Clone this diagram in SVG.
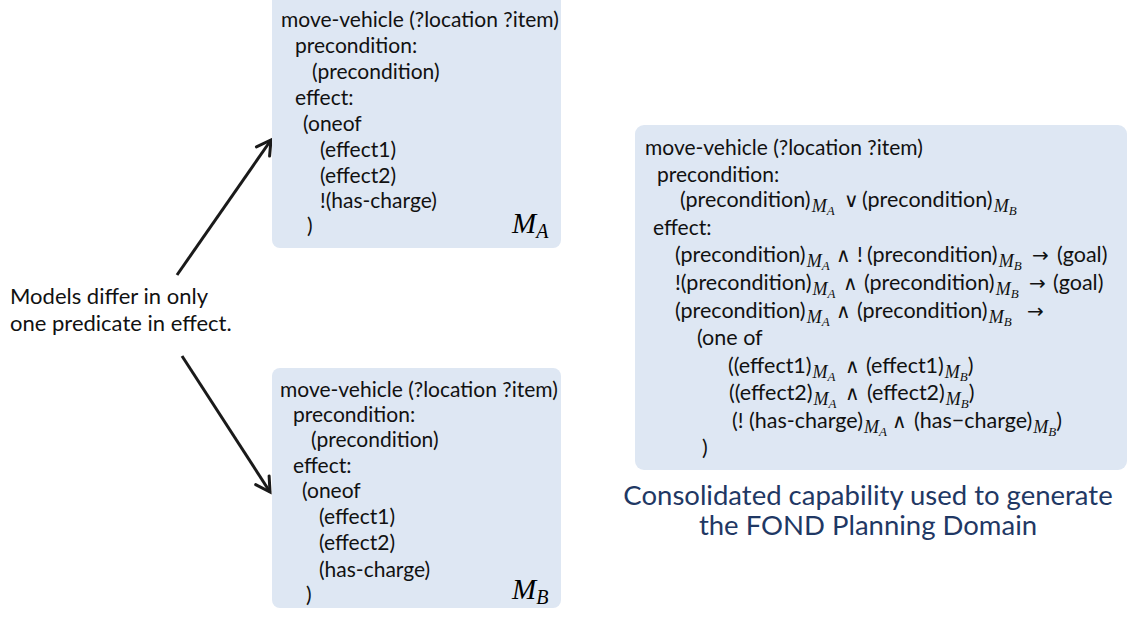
<svg xmlns="http://www.w3.org/2000/svg" width="1145" height="620" viewBox="0 0 1145 620">
  <defs>
    <marker id="arr" viewBox="0 0 20 20" refX="17" refY="10" markerWidth="20" markerHeight="20" markerUnits="userSpaceOnUse" orient="auto">
      <path d="M3,2 L17,10 L3,18" fill="none" stroke="#1a1a1a" stroke-width="3" stroke-linecap="round" stroke-linejoin="miter"/>
    </marker>
  </defs>
  <style>
    .box { fill: #dee7f3; }
    .t { font-family: Lato, "Liberation Sans", "DejaVu Sans", sans-serif; font-size: 21px; fill: #111; }
    .c { font-size: 21.5px; }
    .m { font-family: "Liberation Serif", "DejaVu Serif", serif; font-style: italic; }
    .sm { font-size: 18px; }
    .ss { font-size: 13px; }
    .big { font-size: 29px; }
    .bs { font-size: 20px; }
    .cap { font-family: Lato, "Liberation Sans", sans-serif; font-size: 27.5px; fill: #1f3864; text-anchor: middle; }
    .lbl { font-family: Lato, "Liberation Sans", sans-serif; font-size: 22px; fill: #111; }
    .op { font-family: "DejaVu Sans", sans-serif; font-size: 20px; }
  </style>
  <rect width="1145" height="620" fill="#ffffff"/>

  <g id="connectors" stroke="#1a1a1a" stroke-width="3" fill="none">
    <line x1="177" y1="275" x2="271" y2="140" marker-end="url(#arr)"/>
    <line x1="182" y1="356" x2="270" y2="492" marker-end="url(#arr)"/>
  </g>

  <g id="label-models">
    <text class="lbl" x="10" y="304">Models differ in only</text>
    <text class="lbl" x="10" y="331">one predicate in effect.</text>
  </g>

  <g id="model-a">
    <rect class="box" x="272" y="-8" width="289" height="256" rx="8"/>
    <text class="t" x="281" y="27">move-vehicle (?location ?item)</text>
    <text class="t" x="295" y="53">precondition:</text>
    <text class="t" x="312" y="79">(precondition)</text>
    <text class="t" x="295" y="105">effect:</text>
    <text class="t" x="303" y="131">(oneof</text>
    <text class="t" x="320" y="157">(effect1)</text>
    <text class="t" x="320" y="183">(effect2)</text>
    <text class="t" x="320" y="208">!(has-charge)</text>
    <text class="t" x="307" y="233">)</text>
    <text class="m" x="512" y="233"><tspan class="big">M</tspan><tspan class="bs" dy="5">A</tspan></text>
  </g>

  <g id="model-b">
    <rect class="box" x="272" y="368" width="289" height="240" rx="8"/>
    <text class="t" x="280" y="397">move-vehicle (?location ?item)</text>
    <text class="t" x="293" y="422">precondition:</text>
    <text class="t" x="311" y="447">(precondition)</text>
    <text class="t" x="293" y="473">effect:</text>
    <text class="t" x="302" y="498">(oneof</text>
    <text class="t" x="319" y="524">(effect1)</text>
    <text class="t" x="319" y="550">(effect2)</text>
    <text class="t" x="319" y="577">(has-charge)</text>
    <text class="t" x="306" y="602">)</text>
    <text class="m" x="512" y="599"><tspan class="big">M</tspan><tspan class="bs" dy="5">B</tspan></text>
  </g>

  <g id="consolidated">
    <rect class="box" x="635" y="125" width="492" height="345" rx="9"/>
    <text class="t" x="645" y="155">move-vehicle (?location ?item)</text>
    <text class="t" x="657" y="182">precondition:</text>
    <text class="t c" y="207"><tspan x="680">(precondition)</tspan><tspan class="m sm" dx="1" dy="5">M</tspan><tspan class="m ss" dy="3">A</tspan><tspan class="op" x="844" dy="-8">∨</tspan><tspan x="862">(precondition)</tspan><tspan class="m sm" dx="1" dy="5">M</tspan><tspan class="m ss" dy="3">B</tspan></text>
    <text class="t" x="653" y="235">effect:</text>
    <text class="t c" y="262"><tspan x="675">(precondition)</tspan><tspan class="m sm" dx="1" dy="5">M</tspan><tspan class="m ss" dy="3">A</tspan><tspan class="op" x="836" dy="-8">∧</tspan><tspan x="857">!</tspan><tspan x="867">(precondition)</tspan><tspan class="m sm" dx="1" dy="5">M</tspan><tspan class="m ss" dy="3">B</tspan><tspan class="op" x="1032" dy="-8">→</tspan><tspan x="1057">(goal)</tspan></text>
    <text class="t c" y="290"><tspan x="675">!(precondition)</tspan><tspan class="m sm" dx="1" dy="5">M</tspan><tspan class="m ss" dy="3">A</tspan><tspan class="op" x="843" dy="-8">∧</tspan><tspan x="864">(precondition)</tspan><tspan class="m sm" dx="1" dy="5">M</tspan><tspan class="m ss" dy="3">B</tspan><tspan class="op" x="1029" dy="-8">→</tspan><tspan x="1053">(goal)</tspan></text>
    <text class="t c" y="318"><tspan x="675">(precondition)</tspan><tspan class="m sm" dx="1" dy="5">M</tspan><tspan class="m ss" dy="3">A</tspan><tspan class="op" x="836" dy="-8">∧</tspan><tspan x="857">(precondition)</tspan><tspan class="m sm" dx="1" dy="5">M</tspan><tspan class="m ss" dy="3">B</tspan><tspan class="op" x="1027" dy="-8">→</tspan></text>
    <text class="t c" x="697" y="345">(one of</text>
    <text class="t c" y="373"><tspan x="728">((effect1)</tspan><tspan class="m sm" dx="1" dy="5">M</tspan><tspan class="m ss" dy="3">A</tspan><tspan class="op" x="845" dy="-8">∧</tspan><tspan x="866">(effect1)</tspan><tspan class="m sm" dx="1" dy="5">M</tspan><tspan class="m ss" dy="3">B</tspan><tspan dy="-8">)</tspan></text>
    <text class="t c" y="400"><tspan x="729">((effect2)</tspan><tspan class="m sm" dx="1" dy="5">M</tspan><tspan class="m ss" dy="3">A</tspan><tspan class="op" x="845" dy="-8">∧</tspan><tspan x="867">(effect2)</tspan><tspan class="m sm" dx="1" dy="5">M</tspan><tspan class="m ss" dy="3">B</tspan><tspan dy="-8">)</tspan></text>
    <text class="t c" y="428"><tspan x="732">(! (has-charge)</tspan><tspan class="m sm" dx="1" dy="5">M</tspan><tspan class="m ss" dy="3">A</tspan><tspan class="op" x="892" dy="-8">∧</tspan><tspan x="914">(has−charge)</tspan><tspan class="m sm" dx="1" dy="5">M</tspan><tspan class="m ss" dy="3">B</tspan><tspan dy="-8">)</tspan></text>
    <text class="t c" x="702" y="455">)</text>
  </g>

  <g id="caption">
    <text class="cap" x="868" y="505">Consolidated capability used to generate</text>
    <text class="cap" x="868" y="535">the FOND Planning Domain</text>
  </g>
</svg>
